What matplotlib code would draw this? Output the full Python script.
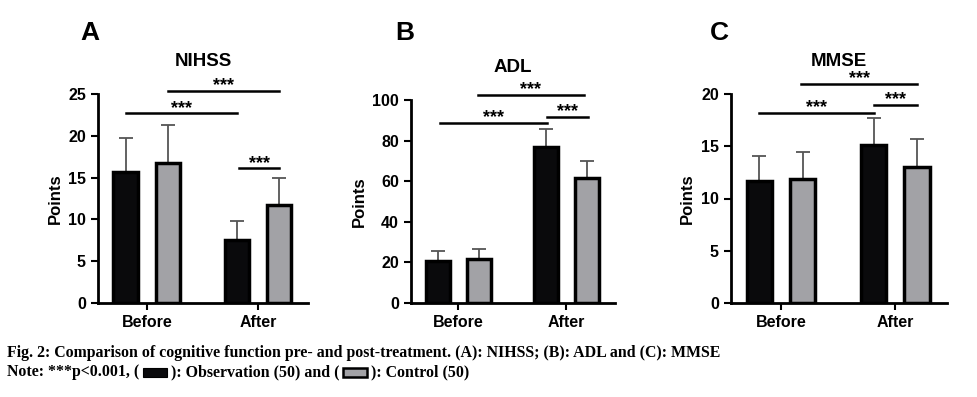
import numpy as np
import matplotlib
matplotlib.use('Agg')
import matplotlib.pyplot as plt

plt.rcParams['font.family'] = ['Liberation Sans', 'DejaVu Sans']
plt.rcParams['font.weight'] = 'bold'

groups = ['Before', 'After']
titles = ['NIHSS', 'ADL', 'MMSE']
letters = ['A', 'B', 'C']

# means / SD
nihss_obs = [15.7, 7.5]
nihss_obs_sd = [4.1, 2.3]
nihss_ctl = [16.8, 11.7]
nihss_ctl_sd = [4.5, 3.2]

adl_obs = [20.8, 77.0]
adl_obs_sd = [4.8, 8.7]
adl_ctl = [21.7, 61.7]
adl_ctl_sd = [4.9, 8.4]

mmse_obs = [11.7, 15.1]
mmse_obs_sd = [2.4, 2.6]
mmse_ctl = [11.9, 13.0]
mmse_ctl_sd = [2.6, 2.7]

ymax = [25, 100, 20]
ystep = [5, 20, 5]

# significance brackets: (x start, x end, y level) in data units
sig_nihss = [(-0.19, 0.81, 22.7), (0.19, 1.19, 25.4), (0.83, 1.19, 16.1)]
sig_adl = [(-0.17, 0.82, 88.7), (0.18, 1.16, 102.5), (0.82, 1.20, 91.6)]
sig_mmse = [(-0.19, 0.81, 18.2), (0.18, 1.19, 21.0), (0.81, 1.19, 19.0)]

obs = [nihss_obs, adl_obs, mmse_obs]
obs_sd = [nihss_obs_sd, adl_obs_sd, mmse_obs_sd]
ctl = [nihss_ctl, adl_ctl, mmse_ctl]
ctl_sd = [nihss_ctl_sd, adl_ctl_sd, mmse_ctl_sd]
sigs = [sig_nihss, sig_adl, sig_mmse]

fig = plt.figure(figsize=(9.78, 3.97), dpi=100)
boxes = [[0.100, 0.237, 0.215, 0.526],
         [0.420, 0.237, 0.209, 0.511],
         [0.747, 0.237, 0.221, 0.526]]
letter_x = [0.092, 0.414, 0.736]
title_y = [0.846, 0.830, 0.846]

index = np.arange(len(groups))
off = 0.19
w = 0.22

for i in range(3):
    ax = fig.add_axes(boxes[i])
    ax.bar(index - off, obs[i], w, color='#0a0a0c', edgecolor='black',
           linewidth=2.5, zorder=3)
    ax.bar(index + off, ctl[i], w, color='#a2a2a6', edgecolor='black',
           linewidth=2.5, zorder=3)
    ax.errorbar(index - off, obs[i], yerr=[np.zeros(2), obs_sd[i]], fmt='none',
                ecolor='#555555', elinewidth=1.3, capsize=5, capthick=1.3, zorder=2)
    ax.errorbar(index + off, ctl[i], yerr=[np.zeros(2), ctl_sd[i]], fmt='none',
                ecolor='#555555', elinewidth=1.3, capsize=5, capthick=1.3, zorder=2)

    ax.set_xlim(-0.44, 1.45)
    ax.set_ylim(0, ymax[i])
    ax.set_yticks(np.arange(0, ymax[i] + 1, ystep[i]))
    ax.set_xticks(index)
    ax.set_xticklabels(groups, fontsize=11.5, fontweight='bold')
    ax.tick_params(axis='y', labelsize=11.5, width=1.5, length=5)
    ax.tick_params(axis='x', width=1.5, length=5)
    for lab in ax.get_yticklabels():
        lab.set_fontweight('bold')
    ax.spines['top'].set_visible(False)
    ax.spines['right'].set_visible(False)
    ax.spines['left'].set_linewidth(2)
    ax.spines['bottom'].set_linewidth(2)
    ax.set_ylabel('Points', fontsize=12, fontweight='bold')

    for x0, x1, yy in sigs[i]:
        ax.plot([x0, x1], [yy, yy], color='black', linewidth=1.8, clip_on=False)
        ax.annotate('***', xy=((x0 + x1) / 2, yy), xytext=(0, 0.5),
                    textcoords='offset points', ha='center', va='baseline',
                    fontsize=13, fontweight='bold', annotation_clip=False)

    fig.text(boxes[i][0] + boxes[i][2] * 0.5, title_y[i], titles[i], ha='center',
             va='center', fontsize=13.5, fontweight='bold')
    fig.text(letter_x[i], 0.918, letters[i], ha='center', va='center',
             fontsize=19, fontweight='bold')

# caption below the panels
cap_kw = dict(family='Liberation Serif', fontsize=11.4, fontweight='bold', va='center')
cap1 = 'Fig. 2: Comparison of cognitive function pre- and post-treatment. (A): NIHSS; (B): ADL and (C): MMSE'
fig.text(0.007, 0.110, cap1, **cap_kw)

renderer = fig.canvas.get_renderer()
W = fig.bbox.width
x = 0.007
parts = ['Note: ***p<0.001, ( ', ' ): Observation (50) and ( ', ' ): Control (50)']
box_cols = ['#0a0a0c', '#a2a2a6']
box_lw = [0.8, 1.8]
for k, s in enumerate(parts):
    t = fig.text(x, 0.062, s, **cap_kw)
    x += t.get_window_extent(renderer).width / W
    if k < 2:
        fig.patches.append(plt.Rectangle((x, 0.050), 0.024, 0.024,
                                         transform=fig.transFigure,
                                         facecolor=box_cols[k], edgecolor='black',
                                         linewidth=box_lw[k]))
        x += 0.024

fig.savefig('out.png', dpi=100)
